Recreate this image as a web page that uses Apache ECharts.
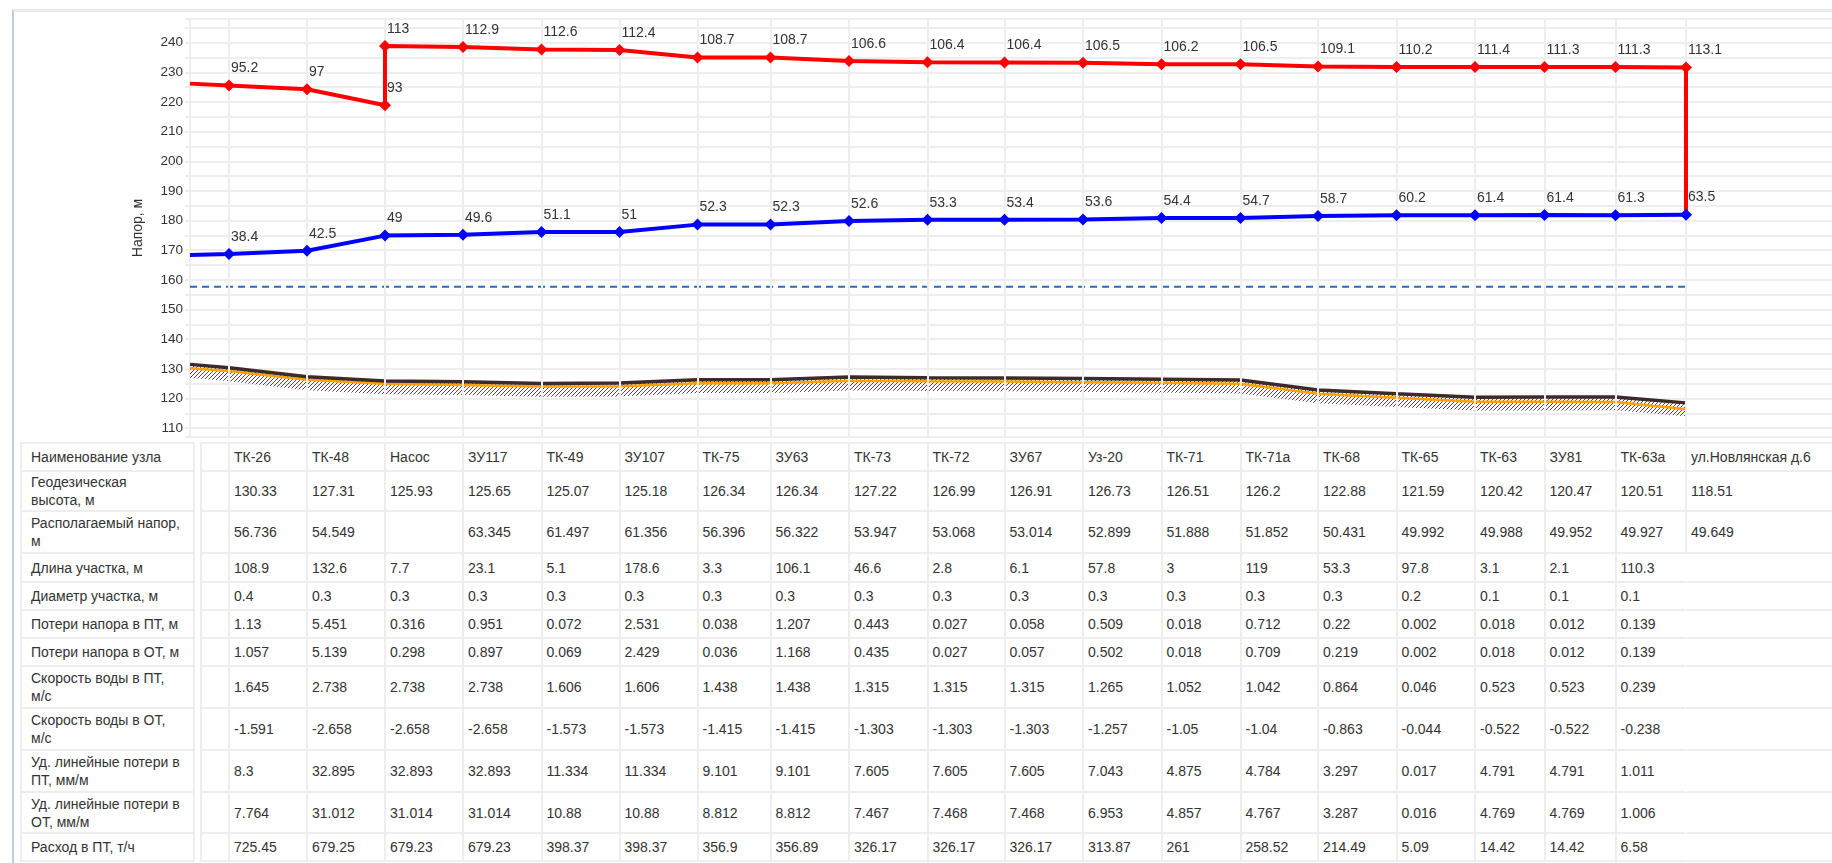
<!DOCTYPE html>
<html>
<head>
<meta charset="utf-8">
<script src="https://cdn.jsdelivr.net/npm/echarts@6/dist/echarts.min.js"></script>
<style>
  html, body { margin: 0; padding: 0; background: #fff; width: 1832px; height: 863px; overflow: hidden;
    font-family: 'Liberation Sans', Arial, sans-serif; }
  #frame { position: absolute; left: 12px; top: 9px; right: 0; bottom: 0;
    border-top: 3px solid #e6eaf0; border-left: 2px solid #c3ccdc; }
  #chart { position: absolute; left: 0; top: 0; width: 1832px; height: 440px; }
  table { position: absolute; top: 442px; border-collapse: separate; border-spacing: 0;
    table-layout: fixed; font-size: 14px; color: #333; border-top: 2px solid #eee; }
  td { box-sizing: border-box; border-left: 2px solid #eee; border-bottom: 2px solid #eee;
    padding: 0 0 0 4px; vertical-align: middle; white-space: nowrap; line-height: 18px; overflow: hidden; }
  #names { left: 20px; width: 175px; border-right: 2px solid #eee; }
  #names td { padding-left: 9px; white-space: pre-line; }
  #values { left: 200px; }
  td.blank { border-left-color: transparent; }
</style>
</head>
<body>
<div id="frame"></div>
<div id="chart"></div>
<table id="names"></table>
<table id="values"></table>
<script>
// узлы трассы
var nodes = ['ТК-26', 'ТК-48', 'Насос', 'ЗУ117', 'ТК-49', 'ЗУ107', 'ТК-75', 'ЗУ63', 'ТК-73', 'ТК-72',
  'ЗУ67', 'Уз-20', 'ТК-71', 'ТК-71а', 'ТК-68', 'ТК-65', 'ТК-63', 'ЗУ81', 'ТК-63а', 'ул.Новлянская д.6'];
var geoHeight = [130.33, 127.31, 125.93, 125.65, 125.07, 125.18, 126.34, 126.34, 127.22, 126.99,
  126.91, 126.73, 126.51, 126.2, 122.88, 121.59, 120.42, 120.47, 120.51, 118.51];
// напор в подающем (ПТ) и обратном (ОТ), подписи на графике
var supplyHead = [95.2, 97, 113, 112.9, 112.6, 112.4, 108.7, 108.7, 106.6, 106.4,
  106.4, 106.5, 106.2, 106.5, 109.1, 110.2, 111.4, 111.3, 111.3, 113.1];
var pumpIndex = 2;
var pumpInlet = 93;
var returnHead = [38.4, 42.5, 49, 49.6, 51.1, 51, 52.3, 52.3, 52.6, 53.3,
  53.4, 53.6, 54.4, 54.7, 58.7, 60.2, 61.4, 61.4, 61.3, 63.5];
// оценка по рисунку: ось трубы и начальные точки
var pipeLevel = [129.3, 126.3, 125.0, 124.5, 124.0, 124.1, 125.1, 125.1, 126.0, 125.8,
  125.7, 125.5, 125.3, 125.0, 121.6, 120.2, 118.9, 118.9, 118.8, 116.4];
var supplyStart = 226.2, returnStart = 168.4, groundStart = 131.5, pipeStart = 130.2;
var staticHead = 157.7;

// таблица
var rowNames = ['Наименование узла', 'Геодезическая\nвысота, м', 'Располагаемый напор,\nм',
  'Длина участка, м', 'Диаметр участка, м', 'Потери напора в ПТ, м', 'Потери напора в ОТ, м',
  'Скорость воды в ПТ,\nм/с', 'Скорость воды в ОТ,\nм/с', 'Уд. линейные потери в\nПТ, мм/м',
  'Уд. линейные потери в\nОТ, мм/м', 'Расход в ПТ, т/ч'];
var availHead = [56.736, 54.549, '', 63.345, 61.497, 61.356, 56.396, 56.322, 53.947, 53.068,
  53.014, 52.899, 51.888, 51.852, 50.431, 49.992, 49.988, 49.952, 49.927, 49.649];
var pipeLength = [108.9, 132.6, 7.7, 23.1, 5.1, 178.6, 3.3, 106.1, 46.6, 2.8,
  6.1, 57.8, 3, 119, 53.3, 97.8, 3.1, 2.1, 110.3, ''];
var diameter = [0.4, 0.3, 0.3, 0.3, 0.3, 0.3, 0.3, 0.3, 0.3, 0.3,
  0.3, 0.3, 0.3, 0.3, 0.3, 0.2, 0.1, 0.1, 0.1, ''];
var lossSupply = [1.13, 5.451, 0.316, 0.951, 0.072, 2.531, 0.038, 1.207, 0.443, 0.027,
  0.058, 0.509, 0.018, 0.712, 0.22, 0.002, 0.018, 0.012, 0.139, ''];
var lossReturn = [1.057, 5.139, 0.298, 0.897, 0.069, 2.429, 0.036, 1.168, 0.435, 0.027,
  0.057, 0.502, 0.018, 0.709, 0.219, 0.002, 0.018, 0.012, 0.139, ''];
var speedSupply = [1.645, 2.738, 2.738, 2.738, 1.606, 1.606, 1.438, 1.438, 1.315, 1.315,
  1.315, 1.265, 1.052, 1.042, 0.864, 0.046, 0.523, 0.523, 0.239, ''];
var speedReturn = [-1.591, -2.658, -2.658, -2.658, -1.573, -1.573, -1.415, -1.415, -1.303, -1.303,
  -1.303, -1.257, -1.05, -1.04, -0.863, -0.044, -0.522, -0.522, -0.238, ''];
var specLossSupply = [8.3, 32.895, 32.893, 32.893, 11.334, 11.334, 9.101, 9.101, 7.605, 7.605,
  7.605, 7.043, 4.875, 4.784, 3.297, 0.017, 4.791, 4.791, 1.011, ''];
var specLossReturn = [7.764, 31.012, 31.014, 31.014, 10.88, 10.88, 8.812, 8.812, 7.467, 7.468,
  7.468, 6.953, 4.857, 4.767, 3.287, 0.016, 4.769, 4.769, 1.006, ''];
var flowSupply = [725.45, 679.25, 679.23, 679.23, 398.37, 398.37, 356.9, 356.89, 326.17, 326.17,
  326.17, 313.87, 261, 258.52, 214.49, 5.09, 14.42, 14.42, 6.58, ''];

var tableRows = [nodes, geoHeight, availHead, pipeLength, diameter, lossSupply, lossReturn,
  speedSupply, speedReturn, specLossSupply, specLossReturn, flowSupply];

// раскладка
var rowHeights = [28, 40, 42, 29, 28, 28, 28, 42, 42, 42, 41, 28];
var colWidths = [28, 78, 78, 78, 78.5, 78, 78, 73, 78.5, 78.5, 77, 78.5, 78.5, 79, 77.5, 78.5, 78.5, 69.5, 71, 70.5, 170];
var plotLeft = 190;
var fontFamily = 'Liberation Sans, Arial, sans-serif';

function buildTables() {
  var names = document.getElementById('names');
  var values = document.getElementById('values');
  var cg = '<colgroup>';
  colWidths.forEach(function (w) { cg += '<col style="width:' + w + 'px">'; });
  cg += '</colgroup>';
  var h1 = '', h2 = cg;
  var total = colWidths.reduce(function (a, b) { return a + b; }, 0);
  values.style.width = total + 'px';
  tableRows.forEach(function (row, r) {
    h1 += '<tr style="height:' + rowHeights[r] + 'px"><td>' + rowNames[r] + '</td></tr>';
    h2 += '<tr style="height:' + rowHeights[r] + 'px"><td></td>';
    row.forEach(function (v, c) {
      var blank = (v === '' && c === row.length - 1) ? ' class="blank"' : '';
      h2 += '<td' + blank + '>' + v + '</td>';
    });
    h2 += '</tr>';
  });
  names.innerHTML = h1;
  values.innerHTML = h2;
}
buildTables();

// положения узлов берём по колонкам таблицы
var headCells = document.querySelectorAll('#values tr:first-child td');
var nodeX = [];
for (var i = 1; i < headCells.length; i++) {
  nodeX.push(headCells[i].getBoundingClientRect().left + 1);
}
var last = nodes.length - 1;

var supplyData = [{ value: [plotLeft, supplyStart], symbol: 'none' }];
var returnData = [{ value: [plotLeft, returnStart], symbol: 'none' }];
var groundData = [[plotLeft, groundStart]];
var pipeData = [[plotLeft, pipeStart]];
nodes.forEach(function (n, i) {
  if (i === pumpIndex) supplyData.push([nodeX[i], geoHeight[i] + pumpInlet, pumpInlet]);
  supplyData.push([nodeX[i], geoHeight[i] + supplyHead[i], supplyHead[i]]);
  returnData.push([nodeX[i], geoHeight[i] + returnHead[i], returnHead[i]]);
  groundData.push([nodeX[i], geoHeight[i]]);
  pipeData.push([nodeX[i], pipeLevel[i]]);
});
supplyData.push({ value: [nodeX[last], geoHeight[last] + returnHead[last]], symbol: 'none' });

// штриховка грунта
var hatchDepth = 4.5;
var hatch = document.createElement('canvas');
hatch.width = 4; hatch.height = 4;
var hc = hatch.getContext('2d');
hc.strokeStyle = '#5a4444';
hc.lineWidth = 1;
hc.beginPath();
hc.moveTo(0, 4); hc.lineTo(4, 0);
hc.moveTo(-1, 1); hc.lineTo(1, -1);
hc.moveTo(3, 5); hc.lineTo(5, 3);
hc.stroke();

// одна полоса штриховки под линией земли
function renderHatch(params, api) {
  if (params.dataIndex !== 0) return null;
  var top = groundData.map(function (p) { return api.coord(p); });
  var bottom = groundData.map(function (p) { return api.coord([p[0], p[1] - hatchDepth]); }).reverse();
  return {
    type: 'polygon', shape: { points: top.concat(bottom) },
    style: { fill: { image: hatch, repeat: 'repeat' }, stroke: null }
  };
}

var gridColor = '#eeeeee';
var pointLabel = {
  show: true, position: 'top', align: 'left', offset: [2, 1],
  fontSize: 14, color: '#333', fontFamily: fontFamily,
  formatter: function (p) { return p.value[2] === undefined ? '' : String(p.value[2]); }
};

var mychart = echarts.init(document.getElementById('chart'));
var option = {
  animation: false,
  textStyle: { fontFamily: fontFamily },
  grid: { left: plotLeft, right: 0, top: 19, bottom: 3 },
  xAxis: {
    type: 'value', min: plotLeft, max: 1832, show: false
  },
  yAxis: {
    type: 'value', min: 107, max: 248, minInterval: 5, maxInterval: 5,
    name: 'Напор, м', nameLocation: 'middle', nameGap: 45,
    nameTextStyle: { fontSize: 14, color: '#333', fontFamily: fontFamily },
    axisLine: { show: true, lineStyle: { color: gridColor, width: 2 } },
    axisTick: { show: true, length: 5, lineStyle: { color: gridColor, width: 2 } },
    axisLabel: {
      margin: 7, fontSize: 13.5, color: '#333',
      formatter: function (v) { return v % 10 === 0 ? String(v) : ''; }
    },
    splitLine: { show: true, lineStyle: { color: gridColor, width: 2 } }
  },
  series: [
    {
      name: 'grid', type: 'line', data: [], silent: true, z: 1,
      markLine: {
        silent: true, symbol: ['none', 'none'], label: { show: false },
        lineStyle: { color: gridColor, width: 2, type: 'solid' },
        data: nodeX.map(function (x) { return { xAxis: x }; })
      }
    },
    {
      name: 'hatch', type: 'custom', data: groundData, renderItem: renderHatch,
      silent: true, z: 2
    },
    {
      name: 'pipe', type: 'line', data: pipeData, symbol: 'none',
      lineStyle: { color: '#ffa200', width: 2.5 }, z: 3
    },
    {
      name: 'ground', type: 'line', data: groundData, symbol: 'none',
      lineStyle: { color: '#3d2a2a', width: 3.5 }, z: 4
    },
    {
      name: 'static', type: 'line', data: [[plotLeft, staticHead], [nodeX[last], staticHead]], symbol: 'none',
      lineStyle: { color: '#2b6cb8', width: 2, type: [7, 5] }, z: 4
    },
    {
      name: 'supply', type: 'line', data: supplyData, symbol: 'diamond', symbolSize: 12,
      itemStyle: { color: '#ff0000' }, lineStyle: { color: '#ff0000', width: 4 },
      label: pointLabel, z: 5
    },
    {
      name: 'return', type: 'line', data: returnData, symbol: 'diamond', symbolSize: 12,
      itemStyle: { color: '#0000ff' }, lineStyle: { color: '#0000ff', width: 4 },
      label: pointLabel, z: 6
    }
  ]
};
mychart.setOption(option);
</script>
</body>
</html>
